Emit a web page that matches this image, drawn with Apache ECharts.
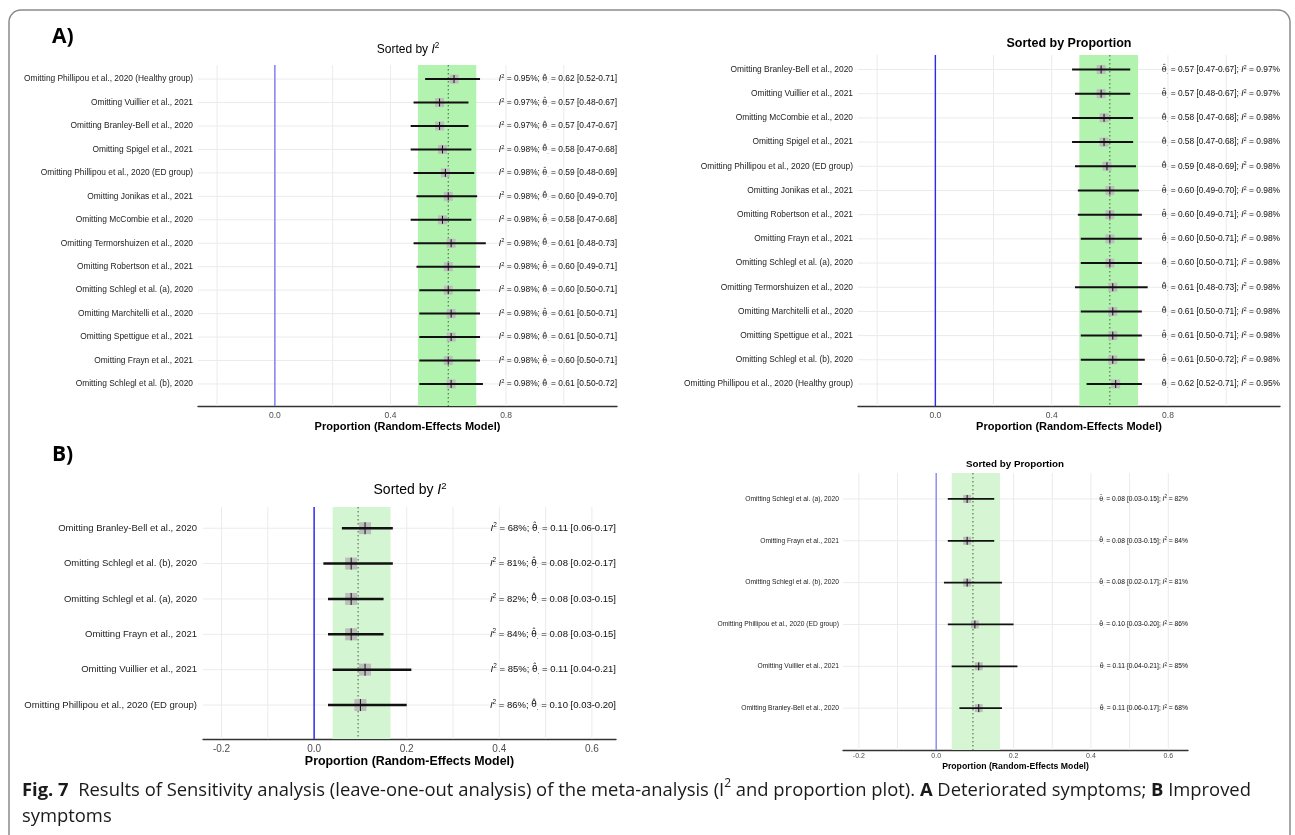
<!DOCTYPE html>
<html>
<head>
<meta charset="utf-8">
<script src="https://cdn.jsdelivr.net/npm/echarts@6/dist/echarts.min.js"></script>
<style>
  html, body { margin: 0; padding: 0; background: #ffffff; }
  #chart { width: 1295px; height: 835px; }
</style>
</head>
<body>
<div id="chart"></div>
<script>
// ---- Deteriorated symptoms: leave-one-out estimates (listed in I² order) ----
const detStudies = [
  'Omitting Phillipou et al., 2020 (Healthy group)',
  'Omitting Vuillier et al., 2021',
  'Omitting Branley-Bell et al., 2020',
  'Omitting Spigel et al., 2021',
  'Omitting Phillipou et al., 2020 (ED group)',
  'Omitting Jonikas et al., 2021',
  'Omitting McCombie et al., 2020',
  'Omitting Termorshuizen et al., 2020',
  'Omitting Robertson et al., 2021',
  'Omitting Schlegl et al. (a), 2020',
  'Omitting Marchitelli et al., 2020',
  'Omitting Spettigue et al., 2021',
  'Omitting Frayn et al., 2021',
  'Omitting Schlegl et al. (b), 2020'
];
const detEst  = [0.62, 0.57, 0.57, 0.58, 0.59, 0.60, 0.58, 0.61, 0.60, 0.60, 0.61, 0.61, 0.60, 0.61];
const detLow  = [0.52, 0.48, 0.47, 0.47, 0.48, 0.49, 0.47, 0.48, 0.49, 0.50, 0.50, 0.50, 0.50, 0.50];
const detHigh = [0.71, 0.67, 0.67, 0.68, 0.69, 0.70, 0.68, 0.73, 0.71, 0.71, 0.71, 0.71, 0.71, 0.72];
const detI2   = ['0.95%', '0.97%', '0.97%', '0.98%', '0.98%', '0.98%', '0.98%',
                 '0.98%', '0.98%', '0.98%', '0.98%', '0.98%', '0.98%', '0.98%'];
const detOrderByI2   = [0, 1, 2, 3, 4, 5, 6, 7, 8, 9, 10, 11, 12, 13];
const detOrderByProp = [2, 1, 6, 3, 4, 5, 8, 12, 9, 7, 10, 11, 13, 0];
const detPooledLow = 0.495, detPooledEst = 0.60, detPooledHigh = 0.697;

// ---- Improved symptoms: leave-one-out estimates (listed in I² order) ----
const impStudies = [
  'Omitting Branley-Bell et al., 2020',
  'Omitting Schlegl et al. (b), 2020',
  'Omitting Schlegl et al. (a), 2020',
  'Omitting Frayn et al., 2021',
  'Omitting Vuillier et al., 2021',
  'Omitting Phillipou et al., 2020 (ED group)'
];
const impEst  = [0.11, 0.08, 0.08, 0.08, 0.11, 0.10];
const impLow  = [0.06, 0.02, 0.03, 0.03, 0.04, 0.03];
const impHigh = [0.17, 0.17, 0.15, 0.15, 0.21, 0.20];
const impI2   = ['68%', '81%', '82%', '84%', '85%', '86%'];
const impOrderByI2   = [0, 1, 2, 3, 4, 5];
const impOrderByProp = [2, 3, 1, 5, 4, 0];
const impPooledLow = 0.04, impPooledEst = 0.095, impPooledHigh = 0.165;

// ---- Axis ticks and grid lines ----
const detTickValues = [0, 0.4, 0.8];
const detGridValues = [-0.2, 0, 0.2, 0.4, 0.6, 0.8, 1.0];
const impTickValues = [-0.2, 0, 0.2, 0.4, 0.6];
const impGridValues = [-0.2, -0.1, 0, 0.1, 0.2, 0.3, 0.4, 0.5, 0.6];

const xTitle = 'Proportion (Random-Effects Model)';

const FONT = "'Liberation Sans', Arial, Helvetica, sans-serif";
const GREEK_FONT = "'DejaVu Sans', sans-serif";
const CAP_FONT = "'Open Sans', 'Noto Sans', sans-serif";

// Panel layout and styling
const panels = [
  { sorted: 'i2', names: detStudies, est: detEst, low: detLow, high: detHigh, i2: detI2, order: detOrderByI2,
    pooled: [detPooledLow, detPooledEst, detPooledHigh], ticks: detTickValues, gridVals: detGridValues,
    grid: { left: 198, top: 65, width: 419, height: 341 }, xr: [-0.266, 1.184], yr: [-0.6, 13.94],
    labelFont: 8.4, annFont: 8.4, tickFont: 8.5, nameFont: 11, nameGap: 15, tickMargin: 5,
    sq: 9, ci: 2, tick: 8, labelGap: 5, blue: '#7a7af2', band: '#b3f3b0',
    title: { text: 'Sorted by {it|I}{sup|2}', x: 408, y: 50, size: 12, bold: false } },
  { sorted: 'prop', names: detStudies, est: detEst, low: detLow, high: detHigh, i2: detI2, order: detOrderByProp,
    pooled: [detPooledLow, detPooledEst, detPooledHigh], ticks: detTickValues, gridVals: detGridValues,
    grid: { left: 858, top: 55, width: 422, height: 351 }, xr: [-0.266, 1.185], yr: [-0.6, 13.91],
    labelFont: 8.4, annFont: 8.4, tickFont: 8.5, nameFont: 11, nameGap: 15, tickMargin: 5,
    sq: 9, ci: 2, tick: 8, labelGap: 5, blue: '#2b2bea', band: '#b3f3b0',
    title: { text: 'Sorted by Proportion', x: 1069, y: 44, size: 12.5, bold: true } },
  { sorted: 'i2', names: impStudies, est: impEst, low: impLow, high: impHigh, i2: impI2, order: impOrderByI2,
    pooled: [impPooledLow, impPooledEst, impPooledHigh], ticks: impTickValues, gridVals: impGridValues,
    grid: { left: 203, top: 507, width: 413, height: 232 }, xr: [-0.24, 0.652], yr: [-0.6, 5.96],
    labelFont: 9.5, annFont: 9.5, tickFont: 10, nameFont: 12.4, nameGap: 17, tickMargin: 5,
    sq: 12, ci: 2.5, tick: 12, labelGap: 6, blue: '#1f1ff5', band: '#d4f5d1',
    title: { text: 'Sorted by {it|I}{sup|2}', x: 410, y: 490, size: 14, bold: false } },
  { sorted: 'prop', names: impStudies, est: impEst, low: impLow, high: impHigh, i2: impI2, order: impOrderByProp,
    pooled: [impPooledLow, impPooledEst, impPooledHigh], ticks: impTickValues, gridVals: impGridValues,
    grid: { left: 843, top: 473, width: 345, height: 277 }, xr: [-0.241, 0.651], yr: [-0.62, 6.0],
    labelFont: 6.7, annFont: 6.7, tickFont: 7, nameFont: 8.7, nameGap: 12, tickMargin: 3,
    sq: 8, ci: 1.8, tick: 8, labelGap: 4, blue: '#8a8af2', band: '#d6f6d3',
    title: { text: 'Sorted by Proportion', x: 1015, y: 464, size: 9.8, bold: true } }
];

function richSet(f, color, bold) {
  const w = bold ? 'bold' : 'normal';
  return {
    it:  { fontSize: f, fontFamily: FONT, fontStyle: 'italic', fontWeight: w, fill: color, lineHeight: f * 1.3 },
    sup: { fontSize: f * 0.68, fontFamily: FONT, fontWeight: w, fill: color, verticalAlign: 'top', lineHeight: f * 0.75 },
    th:  { fontSize: f * 0.95, fontFamily: GREEK_FONT, fill: color, lineHeight: f * 1.3 },
    sub: { fontSize: f * 0.7, fontFamily: FONT, fill: color, verticalAlign: 'bottom', lineHeight: f * 0.95 }
  };
}

function annotation(kind, i2, est, lo, hi) {
  const theta = '{th|\u03B8\u0302}{sub|.} = ' + est.toFixed(2) + ' [' + lo.toFixed(2) + '-' + hi.toFixed(2) + ']';
  const isq = '{it|I}{sup|2} = ' + i2;
  return kind === 'i2' ? isq + '; ' + theta : theta + '; ' + isq;
}

const grids = [], xAxes = [], yAxes = [], series = [], graphics = [];

panels.forEach(function (p, k) {
  grids.push(Object.assign({ containLabel: false }, p.grid));
  xAxes.push({
    gridIndex: k, type: 'value', min: p.xr[0], max: p.xr[1],
    axisLine: { show: true, onZero: false, lineStyle: { color: '#333333', width: 1.4 } },
    axisTick: { show: false },
    splitLine: { show: false },
    axisLabel: {
      customValues: p.ticks, formatter: function (v) { return v.toFixed(1); },
      color: '#4d4d4d', fontSize: p.tickFont, fontFamily: FONT, margin: p.tickMargin
    },
    name: xTitle, nameLocation: 'middle', nameGap: p.nameGap,
    nameTextStyle: { fontWeight: 'bold', fontSize: p.nameFont, fontFamily: FONT, color: '#000000' }
  });
  yAxes.push({ gridIndex: k, type: 'value', min: p.yr[0], max: p.yr[1], inverse: true, show: false });

  const rows = p.order.map(function (idx, r) { return [p.est[idx], r, p.low[idx], p.high[idx]]; });
  const labels = p.order.map(function (idx) { return p.names[idx]; });
  const notes = p.order.map(function (idx) {
    return annotation(p.sorted, p.i2[idx], p.est[idx], p.low[idx], p.high[idx]);
  });
  const base = { type: 'custom', xAxisIndex: k, yAxisIndex: k, silent: true, animation: false, clip: false };

  // vertical grid lines
  series.push(Object.assign({}, base, {
    z: 1, data: p.gridVals.map(function (v) { return [v, 0]; }),
    renderItem: function (params, api) {
      const cs = params.coordSys;
      const x = api.coord([api.value(0), 0])[0];
      return { type: 'line', shape: { x1: x, y1: cs.y, x2: x, y2: cs.y + cs.height },
               style: { stroke: '#ebebeb', lineWidth: 1 } };
    }
  }));
  // horizontal grid lines, one per row
  series.push(Object.assign({}, base, {
    z: 1, data: rows.map(function (r) { return [0, r[1]]; }),
    renderItem: function (params, api) {
      const cs = params.coordSys;
      const y = api.coord([0, api.value(1)])[1];
      return { type: 'line', shape: { x1: cs.x, y1: y, x2: cs.x + cs.width, y2: y },
               style: { stroke: '#ebebeb', lineWidth: 1 } };
    }
  }));
  // pooled confidence band
  series.push(Object.assign({}, base, {
    z: 2, data: [[p.pooled[0], p.pooled[2]]],
    renderItem: function (params, api) {
      const cs = params.coordSys;
      const x1 = api.coord([api.value(0), 0])[0];
      const x2 = api.coord([api.value(1), 0])[0];
      return { type: 'rect', shape: { x: x1, y: cs.y, width: x2 - x1, height: cs.height },
               style: { fill: p.band } };
    }
  }));
  // null line at zero
  series.push(Object.assign({}, base, {
    z: 3, data: [[0, 0]],
    renderItem: function (params, api) {
      const cs = params.coordSys;
      const x = api.coord([api.value(0), 0])[0];
      return { type: 'line', shape: { x1: x, y1: cs.y, x2: x, y2: cs.y + cs.height },
               style: { stroke: p.blue, lineWidth: 1.4 } };
    }
  }));
  // pooled estimate (dotted)
  series.push(Object.assign({}, base, {
    z: 3, data: [[p.pooled[1], 0]],
    renderItem: function (params, api) {
      const cs = params.coordSys;
      const x = api.coord([api.value(0), 0])[0];
      return { type: 'line', shape: { x1: x, y1: cs.y, x2: x, y2: cs.y + cs.height },
               style: { stroke: '#3f5f3f', lineWidth: 1, lineDash: [1.5, 2.5] } };
    }
  }));
  // study rows: square, confidence interval, estimate tick, label, annotation
  series.push(Object.assign({}, base, {
    z: 4, data: rows,
    renderItem: function (params, api) {
      const cs = params.coordSys;
      const i = params.dataIndex;
      const c = api.coord([api.value(0), api.value(1)]);
      const lo = api.coord([api.value(2), api.value(1)]);
      const hi = api.coord([api.value(3), api.value(1)]);
      const s = p.sq;
      return {
        type: 'group',
        children: [
          { type: 'rect', z2: 1, shape: { x: c[0] - s / 2, y: c[1] - s / 2, width: s, height: s },
            style: { fill: '#bdbdbd' } },
          { type: 'line', z2: 2, shape: { x1: lo[0], y1: c[1], x2: hi[0], y2: c[1] },
            style: { stroke: '#111111', lineWidth: p.ci } },
          { type: 'line', z2: 3, shape: { x1: c[0], y1: c[1] - p.tick / 2, x2: c[0], y2: c[1] + p.tick / 2 },
            style: { stroke: '#111111', lineWidth: 1 } },
          { type: 'text', z2: 4,
            style: { text: labels[i], x: cs.x - p.labelGap, y: c[1], align: 'right', verticalAlign: 'middle',
                     fontSize: p.labelFont, fontFamily: FONT, fill: '#222222' } },
          { type: 'text', z2: 4,
            style: { text: notes[i], x: cs.x + cs.width, y: c[1], align: 'right', verticalAlign: 'middle',
                     fontSize: p.annFont, fontFamily: FONT, fill: '#111111', lineHeight: p.annFont * 1.3,
                     rich: richSet(p.annFont, '#111111', false) } }
        ]
      };
    }
  }));

  // panel title
  graphics.push({
    type: 'text', z: 10,
    style: { text: p.title.text, x: p.title.x, y: p.title.y, align: 'center', verticalAlign: 'middle',
             fontSize: p.title.size, fontFamily: FONT, fontWeight: p.title.bold ? 'bold' : 'normal',
             fill: '#000000', lineHeight: p.title.size * 1.3,
             rich: richSet(p.title.size, '#000000', p.title.bold) }
  });
});

// figure frame, panel letters and caption
graphics.push({
  type: 'rect', z: 0,
  shape: { x: 9, y: 10, width: 1281, height: 845, r: 12 },
  style: { fill: 'none', stroke: '#8a8a8a', lineWidth: 1.5 }
});
graphics.push({ type: 'text', z: 10,
  style: { text: 'A)', x: 52, y: 37, align: 'left', verticalAlign: 'middle',
           fontSize: 21, fontWeight: 'bold', fontFamily: CAP_FONT, fill: '#000000' } });
graphics.push({ type: 'text', z: 10,
  style: { text: 'B)', x: 52, y: 455, align: 'left', verticalAlign: 'middle',
           fontSize: 21, fontWeight: 'bold', fontFamily: CAP_FONT, fill: '#000000' } });

const capSize = 18.4;
graphics.push({ type: 'text', z: 10,
  style: {
    text: '{b|Fig. 7}  Results of Sensitivity analysis (leave-one-out analysis) of the meta-analysis (I{sup|2} and proportion plot). {b|A} Deteriorated symptoms; {b|B} Improved\nsymptoms',
    x: 22, y: 778, align: 'left', verticalAlign: 'top',
    fontSize: capSize, fontFamily: CAP_FONT, fill: '#1a1a1a', lineHeight: 26,
    rich: {
      b: { fontSize: capSize, fontFamily: CAP_FONT, fontWeight: 'bold', fill: '#1a1a1a', lineHeight: 26 },
      sup: { fontSize: 12, fontFamily: CAP_FONT, fill: '#1a1a1a', verticalAlign: 'top', lineHeight: 16 }
    }
  } });

const chart = echarts.init(document.getElementById('chart'), null, { renderer: 'canvas' });
chart.setOption({
  animation: false,
  backgroundColor: '#ffffff',
  grid: grids,
  xAxis: xAxes,
  yAxis: yAxes,
  series: series,
  graphic: graphics
});
</script>
</body>
</html>
